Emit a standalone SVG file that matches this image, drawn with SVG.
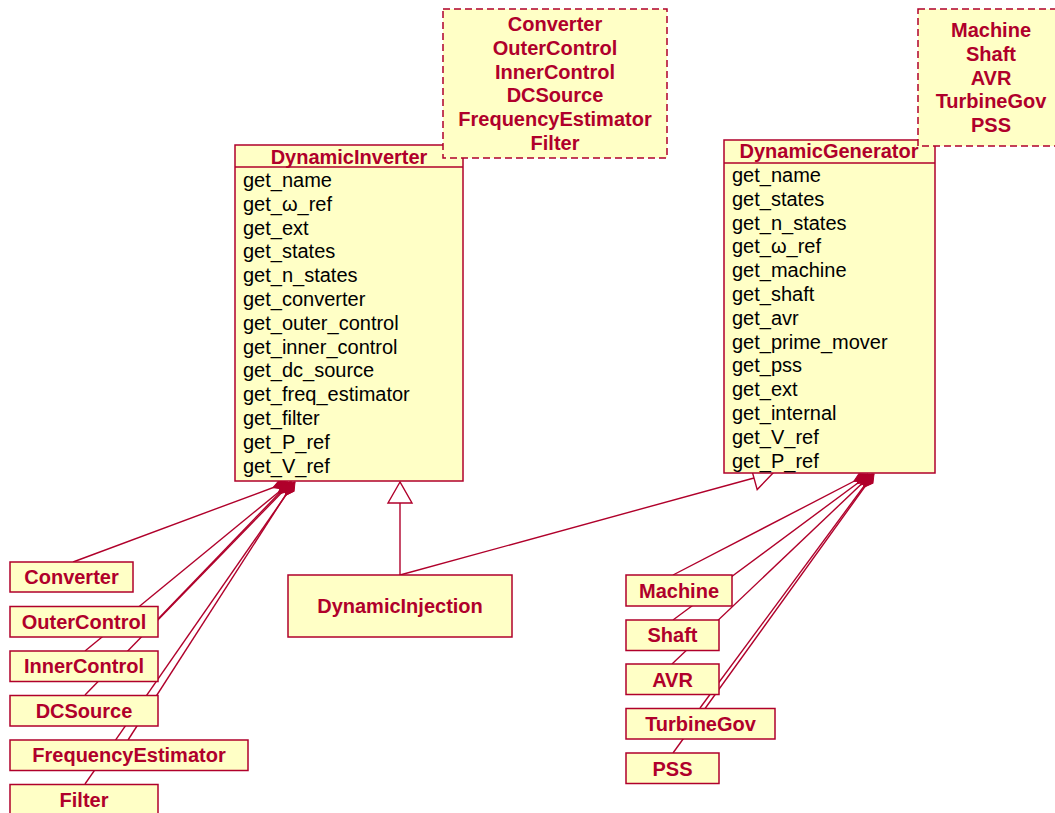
<svg xmlns="http://www.w3.org/2000/svg" width="1055" height="813" viewBox="0 0 1055 813">
<style>
.box{fill:#ffffc6;stroke:#b0002b;stroke-width:1.5}
.note{fill:#ffffc6;stroke:#b0002b;stroke-width:1.5;stroke-dasharray:7,4}
.edge{fill:none;stroke:#b0002b;stroke-width:1.4}
.hd{font-family:"Liberation Sans",Arial,sans-serif;font-size:20px;font-weight:bold;fill:#b0002b;text-anchor:middle}
.m{font-family:"Liberation Sans",Arial,sans-serif;font-size:20px;fill:#000}
.sep{stroke:#b0002b;stroke-width:1.5}
.tri{fill:#fff;stroke:#b0002b;stroke-width:1.4}
</style>
<defs>
<marker id="dia" markerUnits="userSpaceOnUse" markerWidth="18" markerHeight="10" refX="0" refY="0" orient="auto" overflow="visible">
<path d="M0,0 L8,-4.5 L16,0 L8,4.5 Z" fill="#b0002b" stroke="#b0002b" stroke-width="1"/>
</marker>
</defs>
<g id="connectors">
<line class="edge" x1="288" y1="482" x2="73" y2="562" marker-start="url(#dia)"/>
<line class="edge" x1="290" y1="482" x2="158" y2="619" marker-start="url(#dia)"/>
<line class="edge" x1="291" y1="482" x2="85" y2="651" marker-start="url(#dia)"/>
<line class="edge" x1="292" y1="482" x2="85" y2="695" marker-start="url(#dia)"/>
<line class="edge" x1="294" y1="482" x2="128" y2="740" marker-start="url(#dia)"/>
<line class="edge" x1="295" y1="482" x2="85" y2="784" marker-start="url(#dia)"/>
<line class="edge" x1="868" y1="474" x2="673" y2="575" marker-start="url(#dia)"/>
<line class="edge" x1="870" y1="474" x2="673" y2="620" marker-start="url(#dia)"/>
<line class="edge" x1="872" y1="474" x2="672" y2="664" marker-start="url(#dia)"/>
<line class="edge" x1="873" y1="474" x2="700" y2="708" marker-start="url(#dia)"/>
<line class="edge" x1="874" y1="474" x2="673" y2="753" marker-start="url(#dia)"/>
<line class="edge" x1="400" y1="575" x2="400" y2="503"/>
<polygon class="tri" points="400,482 388,503 412,503"/>
<line class="edge" x1="400" y1="575" x2="754" y2="478"/>
<polygon class="tri" points="773.3,472.7 757.2,489.6 750.8,466.4"/>
</g>
<g id="DynamicInverter">
<rect class="box" x="235" y="145" width="228" height="336"/>
<line class="sep" x1="235" y1="167" x2="463" y2="167"/>
<text class="hd" x="349" y="164">DynamicInverter</text>
<text class="m" x="243" y="187">get_name</text>
<text class="m" x="243" y="210.8">get_ω_ref</text>
<text class="m" x="243" y="234.6">get_ext</text>
<text class="m" x="243" y="258.4">get_states</text>
<text class="m" x="243" y="282.2">get_n_states</text>
<text class="m" x="243" y="306">get_converter</text>
<text class="m" x="243" y="329.8">get_outer_control</text>
<text class="m" x="243" y="353.6">get_inner_control</text>
<text class="m" x="243" y="377.4">get_dc_source</text>
<text class="m" x="243" y="401.2">get_freq_estimator</text>
<text class="m" x="243" y="425">get_filter</text>
<text class="m" x="243" y="448.8">get_P_ref</text>
<text class="m" x="243" y="472.6">get_V_ref</text>
</g>
<g id="DynamicGenerator">
<rect class="box" x="724" y="140" width="211" height="333"/>
<line class="sep" x1="724" y1="163" x2="935" y2="163"/>
<text class="hd" x="829" y="158">DynamicGenerator</text>
<text class="m" x="732" y="182">get_name</text>
<text class="m" x="732" y="205.8">get_states</text>
<text class="m" x="732" y="229.6">get_n_states</text>
<text class="m" x="732" y="253.4">get_ω_ref</text>
<text class="m" x="732" y="277.2">get_machine</text>
<text class="m" x="732" y="301">get_shaft</text>
<text class="m" x="732" y="324.8">get_avr</text>
<text class="m" x="732" y="348.6">get_prime_mover</text>
<text class="m" x="732" y="372.4">get_pss</text>
<text class="m" x="732" y="396.2">get_ext</text>
<text class="m" x="732" y="420">get_internal</text>
<text class="m" x="732" y="443.8">get_V_ref</text>
<text class="m" x="732" y="467.6">get_P_ref</text>
</g>
<g id="DynamicInjection">
<rect class="box" x="288" y="575" width="224" height="62"/>
<text class="hd" x="400" y="613">DynamicInjection</text>
</g>
<g id="Converter">
<rect class="box" x="10" y="562" width="123" height="30"/>
<text class="hd" x="71.5" y="584">Converter</text>
</g>
<g id="OuterControl">
<rect class="box" x="10" y="606.5" width="148" height="30.5"/>
<text class="hd" x="84" y="629">OuterControl</text>
</g>
<g id="InnerControl">
<rect class="box" x="10" y="651" width="148" height="30.5"/>
<text class="hd" x="84" y="673">InnerControl</text>
</g>
<g id="DCSource">
<rect class="box" x="10" y="695.5" width="148" height="30.5"/>
<text class="hd" x="84" y="718">DCSource</text>
</g>
<g id="FrequencyEstimator">
<rect class="box" x="10" y="740" width="238" height="30.5"/>
<text class="hd" x="129" y="762">FrequencyEstimator</text>
</g>
<g id="Filter">
<rect class="box" x="10" y="784.5" width="148" height="35"/>
<text class="hd" x="84" y="807">Filter</text>
</g>
<g id="Machine">
<rect class="box" x="626" y="575" width="106" height="31"/>
<text class="hd" x="679" y="598">Machine</text>
</g>
<g id="Shaft">
<rect class="box" x="626" y="620" width="93" height="30.5"/>
<text class="hd" x="672.5" y="642">Shaft</text>
</g>
<g id="AVR">
<rect class="box" x="626" y="664" width="93" height="30.5"/>
<text class="hd" x="672.5" y="686.5">AVR</text>
</g>
<g id="TurbineGov">
<rect class="box" x="626" y="708.5" width="149" height="30.5"/>
<text class="hd" x="700.5" y="731">TurbineGov</text>
</g>
<g id="PSS">
<rect class="box" x="626" y="753" width="93" height="30.5"/>
<text class="hd" x="672.5" y="775.5">PSS</text>
</g>
<g id="InverterNote">
<rect class="note" x="443" y="9" width="224" height="149"/>
<text class="hd" x="555" y="31">Converter</text>
<text class="hd" x="555" y="54.8">OuterControl</text>
<text class="hd" x="555" y="78.6">InnerControl</text>
<text class="hd" x="555" y="102.4">DCSource</text>
<text class="hd" x="555" y="126.2">FrequencyEstimator</text>
<text class="hd" x="555" y="150">Filter</text>
</g>
<g id="GeneratorNote">
<rect class="note" x="918" y="9" width="146" height="137"/>
<text class="hd" x="991" y="37">Machine</text>
<text class="hd" x="991" y="60.8">Shaft</text>
<text class="hd" x="991" y="84.6">AVR</text>
<text class="hd" x="991" y="108.4">TurbineGov</text>
<text class="hd" x="991" y="132.2">PSS</text>
</g>
</svg>
